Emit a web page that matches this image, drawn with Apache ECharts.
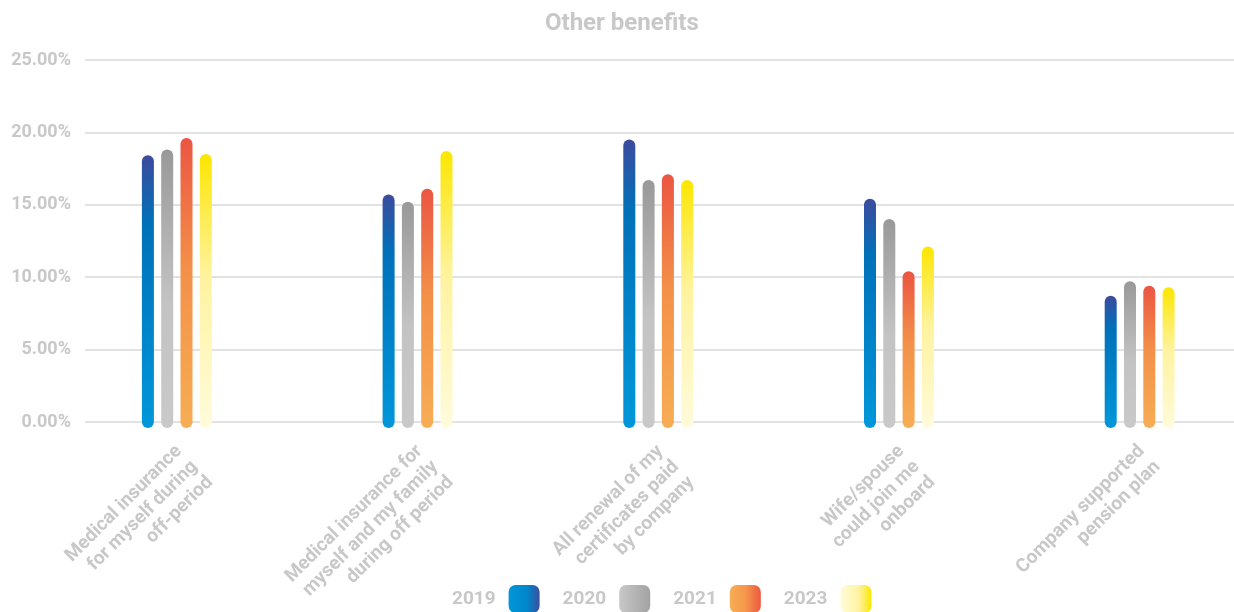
<!DOCTYPE html>
<html>
<head>
<meta charset="utf-8">
<script src="https://cdn.jsdelivr.net/npm/echarts@6/dist/echarts.min.js"></script>
<style>
  html, body { margin: 0; padding: 0; background: #ffffff; }
  #chart { width: 1234px; height: 612px; }
</style>
</head>
<body>
<div id="chart"></div>
<script>
// Survey categories (x axis)
const categories = [
  'Medical insurance\nfor myself during\noff-period',
  'Medical insurance for\nmyself and my family\nduring off period',
  'All renewal of my\ncertificates paid\nby company',
  'Wife/spouse\ncould join me\nonboard',
  'Company supported\npension plan'
];

// Share of respondents per year, in percent
const years = ['2019', '2020', '2021', '2023'];
const values2019 = [18.0, 15.3, 19.1, 15.0, 8.3];
const values2020 = [18.4, 14.8, 16.3, 13.6, 9.3];
const values2021 = [19.2, 15.7, 16.7, 10.0, 9.0];
const values2023 = [18.1, 18.3, 16.3, 11.7, 8.9];

// Y axis ticks
const yTicks = [0, 5, 10, 15, 20, 25];

const seriesValues = [values2019, values2020, values2021, values2023];

const TEXT = '#c8c8c8';
const FONT = 'Roboto';
const BAR_W = 12;
const CAP = BAR_W / 2;
const STEP = 19.3;

function vGrad(stops) {
  return new echarts.graphic.LinearGradient(0, 0, 0, 1,
    stops.map(s => ({ offset: s[0], color: s[1] })));
}
function hGrad(stops) {
  return new echarts.graphic.LinearGradient(0, 0, 1, 0,
    stops.map(s => ({ offset: s[0], color: s[1] })));
}

const barFills = [
  vGrad([[0, '#3c4b9d'], [0.25, '#0071b9'], [1, '#0097da']]),
  vGrad([[0, '#999999'], [0.55, '#c3c3c3'], [1, '#c9c9c9']]),
  vGrad([[0, '#eb5542'], [0.45, '#f39049'], [1, '#f7ad54']]),
  vGrad([[0, '#fce600'], [0.45, '#fff3a0'], [1, '#fffbdc']])
];
const legendFills = [
  hGrad([[0, '#0096d9'], [0.6, '#0086cb'], [1, '#3b4f9f']]),
  hGrad([[0, '#c8c8c8'], [1, '#a2a2a2']]),
  hGrad([[0, '#f7ad54'], [0.5, '#f5974c'], [1, '#ec5a40']]),
  hGrad([[0, '#fffbdc'], [0.6, '#fff3a0'], [1, '#fce600']])
];

// Rounded bar from 0 up to the value, caps sitting past both ends
function makeRender(k) {
  const offset = (k - 1.5) * STEP;
  return function (params, api) {
    const top = api.coord([api.value(0), api.value(1)]);
    const base = api.coord([api.value(0), 0]);
    return {
      type: 'rect',
      shape: {
        x: top[0] + offset - BAR_W / 2,
        y: top[1] - CAP,
        width: BAR_W,
        height: base[1] - top[1] + 2 * CAP,
        r: CAP
      },
      style: { fill: barFills[k] }
    };
  };
}

const chart = echarts.init(document.getElementById('chart'), null, { renderer: 'canvas' });

chart.setOption({
  backgroundColor: '#ffffff',
  animation: false,
  title: {
    text: 'Other benefits',
    left: 545,
    top: 12,
    padding: 0,
    textStyle: { color: TEXT, fontFamily: FONT, fontWeight: 'bold', fontSize: 24 }
  },
  legend: {
    left: 452,
    top: 585,
    padding: 0,
    itemWidth: 31,
    itemHeight: 28,
    itemGap: 23,
    align: 'right',
    icon: 'roundRect',
    textStyle: { color: TEXT, fontFamily: FONT, fontWeight: 'bold', fontSize: 19, padding: [0, 8, 0, 0] },
    data: years.map((y, k) => ({ name: y, icon: 'roundRect', itemStyle: { color: legendFills[k] } }))
  },
  grid: [
    { left: 85, right: 0, top: 60, bottom: 190, containLabel: false, outerBoundsMode: 'none' },
    { left: 56.5, right: -26, top: 60, bottom: 190, containLabel: false, outerBoundsMode: 'none' }
  ],
  xAxis: [
    { gridIndex: 0, type: 'value', show: false, min: 0, max: 1 },
    {
      gridIndex: 1,
      type: 'category',
      data: categories,
      axisLine: { show: false },
      axisTick: { show: false },
      axisLabel: {
        interval: 0,
        rotate: 45,
        margin: 13,
        verticalAlign: 'top',
        padding: [0, 8, 0, 0],
        color: TEXT,
        fontFamily: FONT,
        fontWeight: 'bold',
        fontSize: 19,
        lineHeight: 22
      }
    }
  ],
  yAxis: [
    {
      gridIndex: 0,
      type: 'value',
      min: yTicks[0],
      max: yTicks[yTicks.length - 1],
      interval: yTicks[1] - yTicks[0],
      axisLine: { show: false },
      axisTick: { show: false },
      splitLine: { lineStyle: { color: '#e2e2e2', width: 2 } },
      axisLabel: {
        margin: 14,
        color: TEXT,
        fontFamily: FONT,
        fontWeight: 'bold',
        fontSize: 18,
        formatter: v => v.toFixed(2) + '%'
      }
    },
    {
      gridIndex: 1,
      type: 'value',
      min: yTicks[0],
      max: yTicks[yTicks.length - 1],
      show: false
    }
  ],
  series: years.map((y, k) => ({
    name: y,
    type: 'custom',
    xAxisIndex: 1,
    yAxisIndex: 1,
    clip: false,
    itemStyle: { color: legendFills[k] },
    encode: { x: 0, y: 1 },
    data: seriesValues[k].map((v, i) => [i, v]),
    renderItem: makeRender(k)
  }))
});
</script>
</body>
</html>
